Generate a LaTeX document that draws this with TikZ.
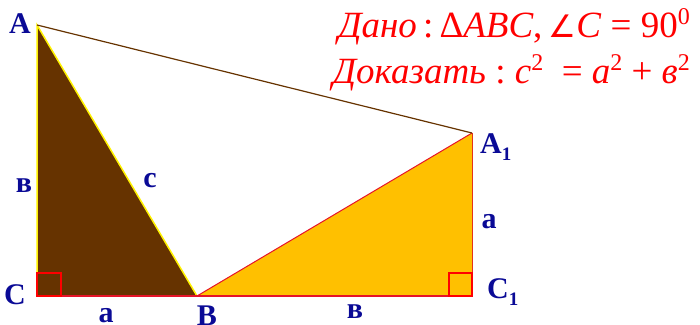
\documentclass[tikz,border=0pt]{standalone}
\usepackage{fontspec}
\setmainfont{Liberation Serif}
\newfontfamily\anglefont{DejaVu Sans}
\usetikzlibrary{positioning,calc}
\definecolor{lblblue}{RGB}{10,10,150}
\definecolor{brownfill}{RGB}{102,51,0}
\definecolor{goldfill}{RGB}{255,192,0}
\definecolor{edgered}{RGB}{230,20,40}

\newcommand{\powr}[1]{\raisebox{0.33em}{\fontsize{24}{24}\selectfont #1}}

\begin{document}
\begin{tikzpicture}[x=1pt, y=-1pt,
    lbl/.style={font=\bfseries\fontsize{30}{30}\selectfont, text=lblblue, inner sep=0pt},
    given/.style={font=\fontsize{37}{37}\selectfont, text=red, inner sep=0pt, anchor=base east},
    rightangle/.style={draw=red, line width=1.5pt}]
        \useasboundingbox (0,0) rectangle (700,324);
        % Vertices
        \coordinate (A) at (37,25);
        \coordinate (C) at (37,296);
        \coordinate (B) at (197,296);
        \coordinate (A1) at (472,133);
        \coordinate (C1) at (472,296);

        % Triangle ABC
        \fill[brownfill] (A) -- (C) -- (B) -- cycle;
        \draw[yellow, line width=1.5pt] (C) -- (A) -- (B);
        % Triangle B C1 A1
        \fill[goldfill] (B) -- (C1) -- (A1) -- cycle;
        \draw[edgered, line width=1pt] (B) -- (A1);
        \draw[red!60!brown, line width=1pt] (A1) -- (C1);
        \draw[edgered, line width=1.5pt] (C) -- (C1);
        % Segment A A1
        \draw[brownfill, line width=1.2pt] (A) -- (A1);

        % Right angles
        \draw[rightangle] (C) rectangle ++(24,-23);
        \draw[rightangle] (C1) rectangle ++(-23,-23);

        % Vertex labels
        \node[lbl, anchor=base] (lA) at (20,33) {A};
        \node[lbl, anchor=base] (lC) at (15,304) {C};
        \node[lbl, anchor=base] (lB) at (207,325) {B};
        \node[lbl, anchor=base west] (lA1) at (480,153) {A\raisebox{-0.25em}{\fontsize{19}{19}\selectfont 1}};
        \node[lbl, anchor=base west] (lC1) at (487,298) {C\raisebox{-0.25em}{\fontsize{19}{19}\selectfont 1}};

        % Side labels
        \node[lbl, anchor=base] (sb) at (24,192) {в};
        \node[lbl, anchor=base] (sc) at (150,187) {c};
        \node[lbl, anchor=base] (sa) at (106,322) {a};
        \node[lbl, anchor=base] (sb1) at (355,318) {в};
        \node[lbl, anchor=base] (sa1) at (489,228) {a};

        % Statement
        \node[given] (dano) at (690,37) {\textit{Дано}\,:\,Δ\textit{ABC},\,{\anglefont\fontsize{31}{31}\selectfont ∠}\textit{C}\ =\ 90\powr{0}};
        \node[given] (prove) at (690,83) {\textit{Доказать}\ :\ \textit{c}\powr{2}\ \ =\ \textit{a}\powr{2}\ +\ \textit{в}\powr{2}};
    \end{tikzpicture}
\end{document}
